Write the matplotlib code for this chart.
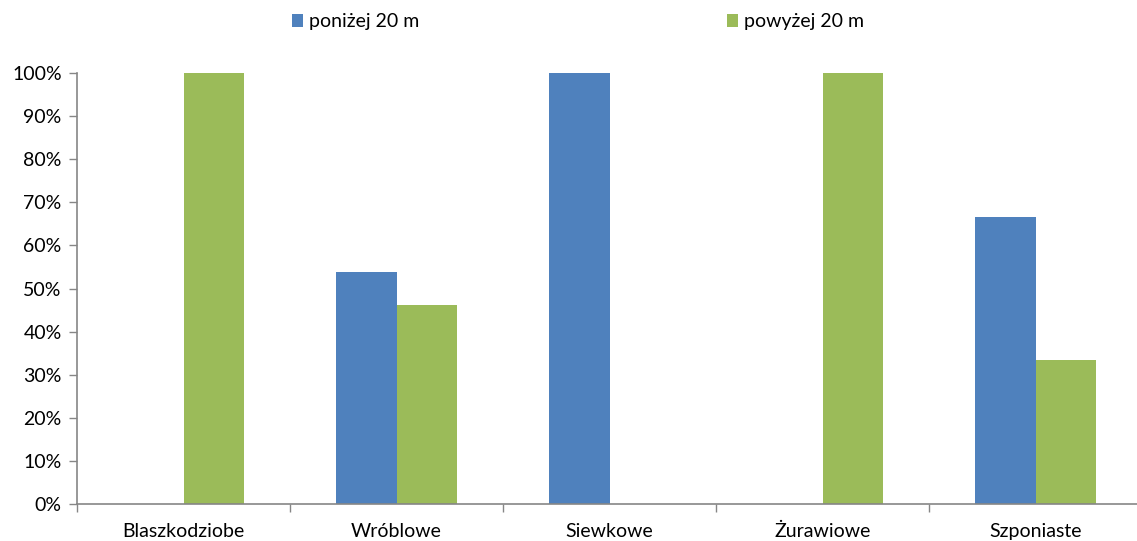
import matplotlib
matplotlib.use("Agg")
import matplotlib.pyplot as plt
import numpy as np
from matplotlib.ticker import FixedLocator

plt.rcParams['font.family'] = ['Lato', 'DejaVu Sans']

categories = ["Blaszkodziobe", "Wróblowe", "Siewkowe", "Żurawiowe", "Szponiaste"]
series_names = ["poniżej 20 m", "powyżej 20 m"]
below = [0.0, 53.8, 100.0, 0.0, 66.7]
above = [100.0, 46.2, 0.0, 100.0, 33.3]
yticks = [0, 10, 20, 30, 40, 50, 60, 70, 80, 90, 100]

W, H = 1137, 541
FS = 14
fig = plt.figure(figsize=(W / 100, H / 100), dpi=100)
ax = fig.add_axes([77 / W, 1 - 504 / H, (1142 - 77) / W, (504 - 73) / H])

x = np.arange(len(categories))
bw = 0.286
ax.bar(x - bw / 2, below, bw, color="#4F81BD", label=series_names[0])
ax.bar(x + bw / 2, above, bw, color="#9BBB59", label=series_names[1])

ax.set_xlim(-0.5, len(categories) - 0.5)
ax.set_ylim(0, 100)
ax.set_yticks(yticks)
ax.set_yticklabels([f"{v}%" for v in yticks], fontsize=FS)
ax.set_xticks(x)
ax.set_xticklabels(categories, fontsize=FS, va="baseline")
ax.tick_params(axis='x', length=0, pad=24)
ax.xaxis.set_minor_locator(FixedLocator(np.arange(-0.5, len(categories), 1.0)))
ax.tick_params(axis='x', which='minor', length=6, width=1, color="#868686")
ax.tick_params(axis='y', length=6, width=1, color="#868686", pad=5)

for s in ["top", "right"]:
    ax.spines[s].set_visible(False)
for s in ["left", "bottom"]:
    ax.spines[s].set_color("#868686")
    ax.spines[s].set_linewidth(1.2)

fig.legend(loc="center", bbox_to_anchor=(578 / W, 1 - 22 / H), ncol=2, frameon=False,
           fontsize=FS, handlelength=0.6, handleheight=0.6, handletextpad=0.3,
           columnspacing=15.8)

fig.savefig("out.png", dpi=100)
